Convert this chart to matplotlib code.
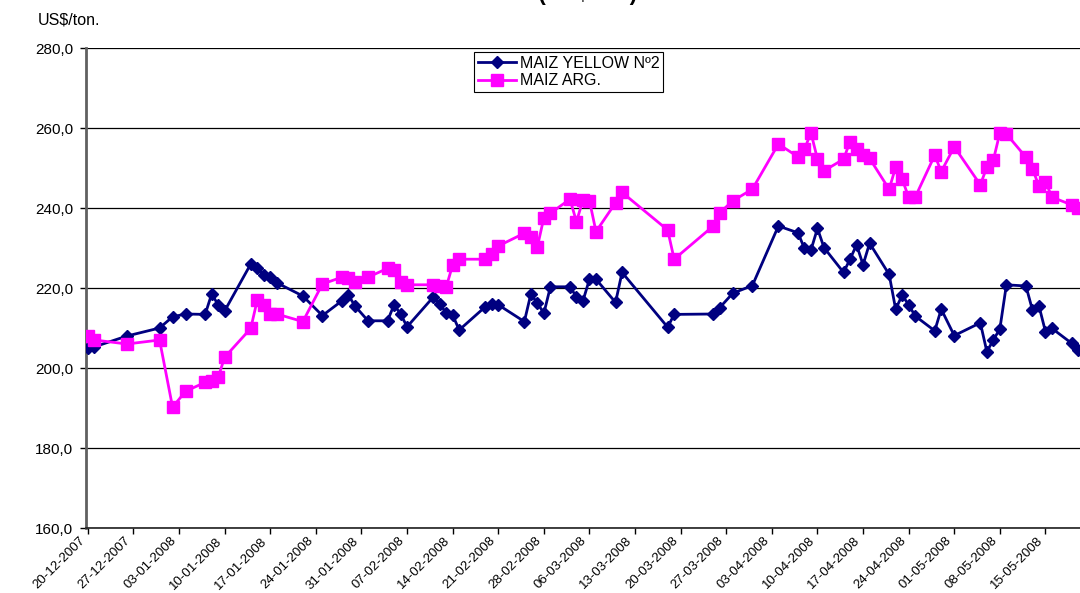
import pandas as pd
import matplotlib
matplotlib.use("Agg")
import matplotlib.pyplot as plt
import matplotlib.dates as mdates
from matplotlib.ticker import MultipleLocator, FuncFormatter
from matplotlib.transforms import ScaledTranslation

plt.rcParams['font.family'] = ['Liberation Sans', 'DejaVu Sans']

# business days with quotes
fechas = [
    "20-12-2007", "21-12-2007", "26-12-2007", "31-12-2007", "02-01-2008", "04-01-2008",
    "07-01-2008", "08-01-2008", "09-01-2008", "10-01-2008", "14-01-2008", "15-01-2008",
    "16-01-2008", "17-01-2008", "18-01-2008", "22-01-2008", "25-01-2008", "28-01-2008",
    "29-01-2008", "30-01-2008", "01-02-2008", "04-02-2008", "05-02-2008", "06-02-2008",
    "07-02-2008", "11-02-2008", "12-02-2008", "13-02-2008", "14-02-2008", "15-02-2008",
    "19-02-2008", "20-02-2008", "21-02-2008", "25-02-2008", "26-02-2008", "27-02-2008",
    "28-02-2008", "29-02-2008", "03-03-2008", "04-03-2008", "05-03-2008", "06-03-2008",
    "07-03-2008", "10-03-2008", "11-03-2008", "18-03-2008", "19-03-2008", "25-03-2008",
    "26-03-2008", "28-03-2008", "31-03-2008", "04-04-2008", "07-04-2008", "08-04-2008",
    "09-04-2008", "10-04-2008", "11-04-2008", "14-04-2008", "15-04-2008", "16-04-2008",
    "17-04-2008", "18-04-2008", "21-04-2008", "22-04-2008", "23-04-2008", "24-04-2008",
    "25-04-2008", "28-04-2008", "29-04-2008", "01-05-2008", "05-05-2008", "06-05-2008",
    "07-05-2008", "08-05-2008", "09-05-2008", "12-05-2008", "13-05-2008", "14-05-2008",
    "15-05-2008", "16-05-2008", "19-05-2008", "20-05-2008",
]

maiz_yellow = [
    205.0, 205.3, 208.0, 210.0, 212.8, 213.5,
    213.4, 218.5, 215.8, 214.3, 226.0, 225.0,
    223.2, 222.8, 221.3, 218.0, 213.1, 216.8,
    218.2, 215.5, 211.8, 211.8, 215.8, 213.5,
    210.3, 217.7, 216.0, 213.8, 213.2, 209.5,
    215.3, 216.0, 215.8, 211.6, 218.5, 216.2,
    213.7, 220.3, 220.3, 217.8, 216.8, 222.2,
    222.2, 216.4, 223.9, 210.2, 213.4, 213.5,
    215.1, 218.7, 220.6, 235.5, 233.8, 229.9,
    229.5, 234.9, 230.1, 223.9, 227.2, 230.8,
    225.8, 231.2, 223.4, 214.7, 218.2, 215.8,
    213.0, 209.3, 214.7, 208.1, 211.3, 204.1,
    207.0, 209.8, 220.8, 220.5, 214.5, 215.5,
    209.1, 209.9, 206.2, 204.5,
]

maiz_arg = [
    208.0, 207.0, 206.0, 207.0, 190.2, 194.2,
    196.4, 196.8, 197.7, 202.7, 209.9, 217.0,
    215.8, 213.5, 213.5, 211.6, 221.0, 222.7,
    222.4, 221.6, 222.7, 224.9, 224.5, 221.4,
    220.8, 220.8, 220.5, 220.2, 225.8, 227.2,
    227.2, 228.5, 230.5, 233.7, 232.7, 230.3,
    237.6, 238.7, 242.2, 236.6, 242.0, 241.8,
    234.1, 241.3, 243.9, 234.5, 227.2, 235.5,
    238.8, 241.8, 244.7, 256.0, 252.8, 254.7,
    258.8, 252.2, 249.3, 252.2, 256.6, 254.7,
    253.2, 252.4, 244.7, 250.2, 247.2, 242.7,
    242.7, 253.2, 249.1, 255.3, 245.8, 250.2,
    252.0, 258.8, 258.5, 252.7, 249.8, 245.5,
    246.6, 242.7, 240.8, 240.0,
]

x = pd.to_datetime(fechas, format="%d-%m-%Y")
ticks = pd.date_range("2007-12-20", "2008-05-15", freq="7D")

fig = plt.figure(figsize=(10.8, 5.93), dpi=100)
ax = fig.add_axes([86 / 1080, 1 - 528 / 593, 1 - 86 / 1080, 480 / 593])

ax.plot(x, maiz_yellow, color="#000080", linewidth=2.0, marker="D",
        markersize=6.3, label="MAIZ YELLOW Nº2", zorder=3)
ax.plot(x, maiz_arg, color="#FF00FF", linewidth=2.0, marker="s",
        markersize=8.5, label="MAIZ ARG.", zorder=3)

ax.set_ylim(160, 280)
ax.yaxis.set_major_locator(MultipleLocator(20))
ax.yaxis.set_major_formatter(FuncFormatter(lambda v, p: f"{v:.1f}".replace(".", ",")))
ax.set_xlim(pd.Timestamp("2007-12-20") - pd.Timedelta(hours=7),
            pd.Timestamp("2007-12-20") + pd.Timedelta(days=152.3))
ax.set_xticks(ticks)
ax.xaxis.set_major_formatter(mdates.DateFormatter("%d-%m-%Y"))

ax.grid(axis="y", color="#000000", linewidth=0.9)
ax.set_axisbelow(True)
for s in ["top", "right"]:
    ax.spines[s].set_visible(False)
ax.spines["left"].set_color("#606060")
ax.spines["left"].set_linewidth(2)
ax.spines["bottom"].set_color("#202020")
ax.spines["bottom"].set_linewidth(1.2)
ax.tick_params(axis="both", direction="out", length=4, width=1, colors="#000000")
ax.tick_params(axis="y", labelsize=11, pad=5)
ax.tick_params(axis="x", labelsize=9.5, pad=1)

# labels sit a bit left of their tick, as in the original
shift = ScaledTranslation(-9 / 100, 0, fig.dpi_scale_trans)
for lab in ax.get_xticklabels():
    lab.set_rotation(45)
    lab.set_ha("right")
    lab.set_rotation_mode("anchor")
    lab.set_transform(lab.get_transform() + shift)

leg = ax.legend(loc="upper left", bbox_to_anchor=(474 / 1080, 1 - 52 / 593),
                bbox_transform=fig.transFigure, borderaxespad=0, fancybox=False,
                framealpha=1, edgecolor="#000000", fontsize=11.5, handlelength=2.4,
                borderpad=0.25, labelspacing=0.15, handletextpad=0.2)
leg.get_frame().set_linewidth(0.8)

fig.text(38 / 1080, 1 - 20 / 593, "US$/ton.", fontsize=11.5, va="center", ha="left")
fig.text(637 / 1080, 1.0, "MAIZ (US$/ton)", fontsize=16, fontweight="bold",
         ha="right", va="baseline")

fig.savefig("out.png", dpi=100)
